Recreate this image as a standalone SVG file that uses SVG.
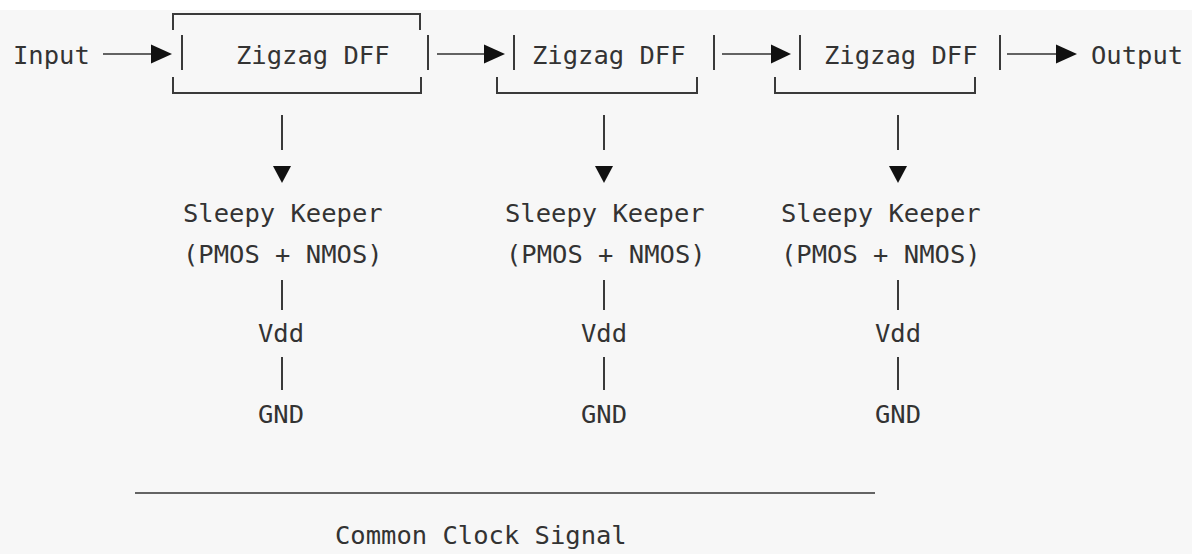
<svg xmlns="http://www.w3.org/2000/svg" width="1192" height="554" viewBox="0 0 1192 554">
<style>
text{font-family:"DejaVu Sans Mono","Liberation Mono",monospace;font-size:25.5px;fill:#333}
.bar{stroke:#3a3a3a;stroke-width:2;fill:none}
.ln{stroke:#333;stroke-width:1.6;fill:none}
.hd{fill:#111}
.m{text-anchor:middle}
</style>
<rect x="0" y="0" width="1192" height="554" fill="#f7f7f7"/>
<rect x="0" y="0" width="1192" height="10" fill="#ffffff"/>
<g id="input"><text x="13" y="64">Input</text></g>
<g id="dff1">
<path class="bar" d="M173,30 V14 H420 V30 M173,77 V93 H421 V77 M182,35 V70 M428,35 V70"/>
<text x="236" y="64">Zigzag DFF</text>
</g>
<g id="dff2">
<path class="bar" d="M497,77 V93 H697 V77 M514,35 V70 M714,35 V70"/>
<text x="532" y="64">Zigzag DFF</text>
</g>
<g id="dff3">
<path class="bar" d="M775,77 V93 H975 V77 M800,35 V70 M1000,35 V70"/>
<text x="824" y="64">Zigzag DFF</text>
</g>
<g id="output"><text x="1091" y="64">Output</text></g>
<g id="keeper1">
<text x="183" y="222">Sleepy Keeper</text>
<text x="183" y="263">(PMOS + NMOS)</text>
<text class="m" x="281" y="342">Vdd</text>
<text class="m" x="281" y="423">GND</text>
</g>
<g id="keeper2">
<text x="505" y="222">Sleepy Keeper</text>
<text x="506" y="263">(PMOS + NMOS)</text>
<text class="m" x="604" y="342">Vdd</text>
<text class="m" x="604" y="423">GND</text>
</g>
<g id="keeper3">
<text x="781" y="222">Sleepy Keeper</text>
<text x="781" y="263">(PMOS + NMOS)</text>
<text class="m" x="898" y="342">Vdd</text>
<text class="m" x="898" y="423">GND</text>
</g>
<g id="clock">
<text x="335" y="544">Common Clock Signal</text>
</g>
<g id="connectors">
<path class="ln" d="M103,54 H154 M437,54 H487 M722,54 H774 M1007,54 H1059"/>
<polygon class="hd" points="151,44.5 172,54 151,63.5"/>
<polygon class="hd" points="484,44.5 505,54 484,63.5"/>
<polygon class="hd" points="771,44.5 791,54 771,63.5"/>
<polygon class="hd" points="1056,44.5 1077,54 1056,63.5"/>
<path class="bar" d="M282,115 V150 M282,280 V310 M282,357 V390 M604,115 V150 M604,280 V310 M604,357 V390 M898,115 V150 M898,280 V310 M898,357 V390"/>
<polygon class="hd" points="273,166 291,166 282,183"/>
<polygon class="hd" points="595,166 613,166 604,183"/>
<polygon class="hd" points="889,166 907,166 898,183"/>
<path class="ln" d="M135,493 H875"/>
</g>
</svg>
